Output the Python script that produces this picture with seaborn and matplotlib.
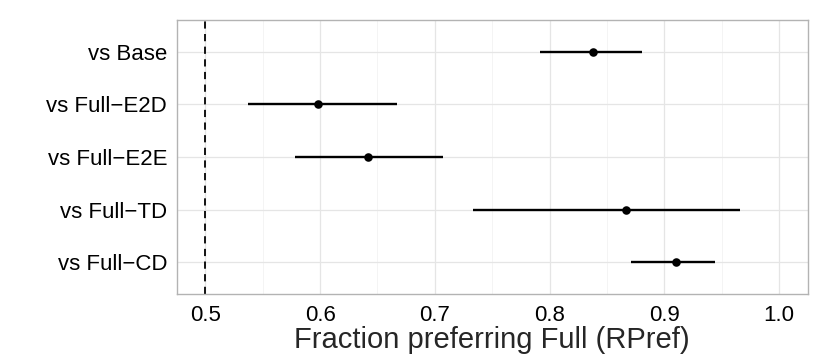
import pandas as pd
import matplotlib.pyplot as plt
import matplotlib.ticker as mticker
import seaborn as sns

# values
comparisons = ['vs Base', 'vs Full\u2212E2D', 'vs Full\u2212E2E', 'vs Full\u2212TD', 'vs Full\u2212CD']
rpref = [0.838, 0.598, 0.642, 0.867, 0.910]
ci_low = [0.792, 0.537, 0.578, 0.733, 0.871]
ci_high = [0.881, 0.667, 0.707, 0.966, 0.944]

df = pd.DataFrame({'comparison': comparisons, 'rpref': rpref,
                   'lo': ci_low, 'hi': ci_high})

sns.set_style("white")
plt.rcParams['font.family'] = ['Liberation Sans', 'DejaVu Sans']

fig = plt.figure(figsize=(8.3, 3.63), dpi=100)
ax = fig.add_axes([0.213, 0.19, 0.76, 0.755])

# grid like theme_bw
ax.set_axisbelow(True)
ax.xaxis.set_major_locator(mticker.MultipleLocator(0.1))
ax.xaxis.set_minor_locator(mticker.MultipleLocator(0.05))
ax.grid(which='major', axis='both', color='#e5e5e5', lw=0.9)
ax.grid(which='minor', axis='x', color='#f2f2f2', lw=0.6)

ax.axvline(0.5, color='black', ls=(0, (4, 3)), lw=1.3, zorder=2)
ax.hlines(df['comparison'], df['lo'], df['hi'], color='black', lw=1.7, zorder=3)
sns.scatterplot(data=df, x='rpref', y='comparison', color='black', s=38,
                edgecolor='black', linewidth=0, zorder=4, ax=ax)

ax.set_xlim(0.475, 1.025)
ax.set_ylim(len(comparisons) - 0.4, -0.6)
ax.xaxis.set_major_formatter(mticker.FormatStrFormatter('%.1f'))

for s in ax.spines.values():
    s.set_color('#b3b3b3')
    s.set_linewidth(1.0)

ax.tick_params(axis='both', which='major', length=4, width=1, color='#333333',
               labelsize=16, labelcolor='black', pad=3, direction='out')
ax.tick_params(axis='both', which='minor', length=0)
ax.tick_params(axis='x', pad=4)

ax.set_ylabel('')
ax.set_xlabel('Fraction preferring Full (RPref)', fontsize=21, labelpad=0)

plt.savefig('out.png', dpi=100)
